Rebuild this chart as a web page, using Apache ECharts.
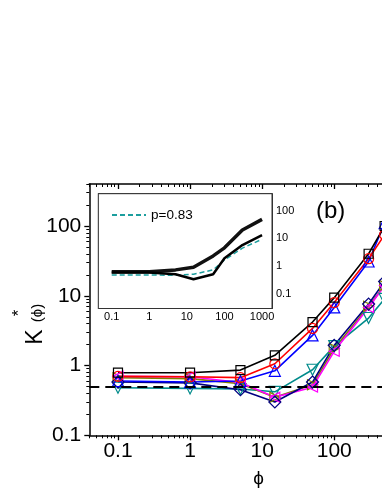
<!DOCTYPE html>
<html>
<head>
<meta charset="utf-8">
<script src="https://cdn.jsdelivr.net/npm/echarts@6/dist/echarts.min.js"></script>
<style>
  html, body { margin: 0; padding: 0; background: #fff; }
  #chart { width: 382px; height: 494px; }
</style>
</head>
<body>
<div id="chart"></div>
<script>
// main panel data (phi values, K*(phi) per series)
const phi = [0.1, 1, 5, 15, 50, 100, 300, 500]
const kBlack = [0.79, 0.79, 0.86, 1.4, 4.2, 9.4, 40, 100]
const kRed = [0.70, 0.69, 0.67, 1.06, 3.4, 8.0, 34, 75]
const kBlue = [0.60, 0.58, 0.60, 0.84, 2.7, 6.8, 31, 110]
const kMagenta = [0.70, 0.69, 0.57, 0.35, 0.49, 1.6, 6.8, 14]
const kOlive = [0.67, 0.65, 0.55, 0.35, 0.53, 1.75, 7.1, 14]
const kNavy = [0.58, 0.565, 0.45, 0.30, 0.58, 1.95, 7.6, 16]
const kTeal = [0.48, 0.47, 0.46, 0.42, 0.87, 1.9, 4.8, 9]
const refLevel = 0.5

// inset data
const insetPhi = [0.1, 1, 5, 15, 50, 100, 300, 1000]
const insetUpper = [0.62, 0.62, 0.72, 0.9, 2.3, 4.5, 20, 48]
const insetLower = [0.58, 0.58, 0.5, 0.33, 0.5, 1.9, 5.7, 13]
const insetTeal = [0.47, 0.47, 0.46, 0.5, 0.72, 1.65, 4.4, 9.2]

// tick values
const xMajor = [0.1, 1, 10, 100, 1000]
const yMajor = [0.1, 1, 10, 100]
const insetXMajor = [0.1, 1, 10, 100, 1000]
const insetYMajor = [0.1, 1, 10, 100]

const minorOf = (majors, lo, hi) => {
  const out = []
  const start = majors[0] / 10
  for (let d = start; d <= hi * 1.0001; d *= 10) {
    for (let m = 2; m <= 9; m++) {
      const v = +(d * m).toPrecision(6)
      if (v >= lo && v <= hi) out.push(v)
    }
  }
  return out
}

const font = 'Liberation Sans, Arial, sans-serif'
const xMin = 0.04, xMax = 2000, yMin = 0.1, yMax = 400
const ixMin = 0.044, ixMax = 1840, iyMin = 0.029, iyMax = 407

const mainAxisLine = { show: true, lineStyle: { color: '#000', width: 1.5 } }
const fmt = v => String(+v.toPrecision(6))

const chart = echarts.init(document.getElementById('chart'), null, { renderer: 'canvas' })

const baseLog = (min, max) => ({ type: 'log', logBase: 10, min, max, splitLine: { show: false } })

const xAxes = [
  // 0 main bottom, major ticks + labels
  Object.assign(baseLog(xMin, xMax), {
    gridIndex: 0, position: 'bottom',
    axisLine: mainAxisLine,
    axisTick: { show: true, length: 5, customValues: xMajor, lineStyle: { width: 1.3, color: '#000' } },
    axisLabel: { customValues: xMajor, formatter: fmt, fontSize: 21, fontFamily: font, color: '#000', margin: 5 },
    name: 'ϕ', nameLocation: 'middle', nameGap: 34,
    nameTextStyle: { fontSize: 19, fontFamily: font, color: '#000' }
  }),
  // 1 main bottom minor
  Object.assign(baseLog(xMin, xMax), {
    gridIndex: 0, position: 'bottom',
    axisLine: { show: false },
    axisTick: { show: true, length: 3, customValues: minorOf(xMajor, xMin, xMax), lineStyle: { width: 1, color: '#000' } },
    axisLabel: { show: false }
  }),
  // 2 main top major
  Object.assign(baseLog(xMin, xMax), {
    gridIndex: 0, position: 'top',
    axisLine: mainAxisLine,
    axisTick: { show: true, inside: true, length: 5, customValues: xMajor, lineStyle: { width: 1.3, color: '#000' } },
    axisLabel: { show: false }
  }),
  // 3 main top minor
  Object.assign(baseLog(xMin, xMax), {
    gridIndex: 0, position: 'top',
    axisLine: { show: false },
    axisTick: { show: true, inside: true, length: 3, customValues: minorOf(xMajor, xMin, xMax), lineStyle: { width: 1, color: '#000' } },
    axisLabel: { show: false }
  }),
  // 4 inset bottom
  Object.assign(baseLog(ixMin, ixMax), {
    gridIndex: 1, position: 'bottom',
    axisLine: { show: true, lineStyle: { color: '#333', width: 1 } },
    axisTick: { show: true, inside: true, length: 3, customValues: insetXMajor, lineStyle: { color: '#333' } },
    axisLabel: { customValues: insetXMajor, formatter: fmt, fontSize: 11, fontFamily: font, color: '#000', margin: 3 }
  }),
  // 5 inset top minor/major
  Object.assign(baseLog(ixMin, ixMax), {
    gridIndex: 1, position: 'top',
    axisLine: { show: true, lineStyle: { color: '#333', width: 1 } },
    axisTick: { show: true, inside: true, length: 2, customValues: minorOf(insetXMajor, ixMin, ixMax).concat(insetXMajor), lineStyle: { color: '#555' } },
    axisLabel: { show: false }
  })
]

const yAxes = [
  // 0 main left major + labels
  Object.assign(baseLog(yMin, yMax), {
    gridIndex: 0, position: 'left',
    axisLine: mainAxisLine,
    axisTick: { show: true, length: 5, customValues: yMajor, lineStyle: { width: 1.3, color: '#000' } },
    axisLabel: { customValues: yMajor, formatter: fmt, fontSize: 21, fontFamily: font, color: '#000', margin: 8 }
  }),
  // 1 main left minor
  Object.assign(baseLog(yMin, yMax), {
    gridIndex: 0, position: 'left',
    axisLine: { show: false },
    axisTick: { show: true, length: 3, customValues: minorOf(yMajor, yMin, yMax), lineStyle: { width: 1, color: '#000' } },
    axisLabel: { show: false }
  }),
  // 2 inset right, labels
  Object.assign(baseLog(iyMin, iyMax), {
    gridIndex: 1, position: 'right',
    axisLine: { show: true, lineStyle: { color: '#333', width: 1 } },
    axisTick: { show: true, inside: true, length: 3, customValues: insetYMajor, lineStyle: { color: '#333' } },
    axisLabel: { customValues: insetYMajor, formatter: fmt, fontSize: 11, fontFamily: font, color: '#000', margin: 4 }
  }),
  // 3 inset left, minor ticks inside
  Object.assign(baseLog(iyMin, iyMax), {
    gridIndex: 1, position: 'left',
    axisLine: { show: true, lineStyle: { color: '#333', width: 1 } },
    axisTick: { show: true, inside: true, length: 2, customValues: minorOf(insetYMajor, iyMin, iyMax).concat(insetYMajor), lineStyle: { color: '#555' } },
    axisLabel: { show: false }
  })
]

const pts = (xs, ys) => xs.map((x, i) => [x, ys[i]])

const mainSeries = (name, ys, color, symbol, rotate, size) => ({
  name, type: 'line', xAxisIndex: 0, yAxisIndex: 0,
  data: pts(phi, ys),
  symbol, symbolRotate: rotate || 0, symbolSize: size || 10,
  showSymbol: true,
  lineStyle: { color, width: 1.6 },
  itemStyle: { color: 'rgba(255,255,255,0)', borderColor: color, borderWidth: 1.2 },
  emphasis: { disabled: true },
  animation: false
})

const insetSeries = (name, ys, color, width, dashed) => ({
  name, type: 'line', xAxisIndex: 4, yAxisIndex: 2,
  data: pts(insetPhi, ys),
  symbol: 'none',
  lineStyle: { color, width, type: dashed ? [5, 3] : 'solid' },
  itemStyle: { color },
  emphasis: { disabled: true },
  animation: false,
  z: 5
})

const teal = '#008b8b'
const insetTealColor = '#1c9e9e'

const series = [
  mainSeries('teal', kTeal, teal, 'triangle', 180, 11),
  mainSeries('olive', kOlive, '#808000', 'triangle', -90, 10),
  mainSeries('magenta', kMagenta, '#ff00ff', 'triangle', 90, 10),
  mainSeries('navy', kNavy, '#000080', 'diamond', 0, 12),
  mainSeries('blue', kBlue, '#0000ff', 'triangle', 0, 11),
  mainSeries('red', kRed, '#ff0000', 'circle', 0, 10),
  mainSeries('black', kBlack, '#000000', 'rect', 0, 9),
  {
    name: 'ref', type: 'line', xAxisIndex: 0, yAxisIndex: 0, data: [],
    markLine: {
      silent: true, symbol: 'none', label: { show: false },
      lineStyle: { color: '#000', width: 2, type: [10, 6] },
      data: [{ yAxis: refLevel }]
    },
    animation: false
  },
  insetSeries('p=0.83', insetTeal, insetTealColor, 1.5, true),
  insetSeries('upper', insetUpper, '#111', 3.5, false),
  insetSeries('lower', insetLower, '#000', 2.5, false)
]

const option = {
  backgroundColor: '#fff',
  animation: false,
  grid: [
    { left: 89.3, right: -46, top: 184, bottom: 58.7, show: false, outerBoundsMode: 'none' },
    { left: 98.3, right: 110, top: 193.7, bottom: 185.5, show: true, backgroundColor: '#fff', borderColor: '#333', borderWidth: 1, z: 3, outerBoundsMode: 'none' }
  ],
  xAxis: xAxes,
  yAxis: yAxes,
  legend: {
    show: true,
    data: ['p=0.83'],
    left: 111, top: 208, itemWidth: 34, itemHeight: 12, itemGap: 4,
    itemStyle: { opacity: 0 },
    lineStyle: { inactiveWidth: 1.5 },
    textStyle: { fontSize: 13.5, fontFamily: font, color: '#000' },
    selectedMode: false, padding: 0, z: 20
  },
  series,
  graphic: [
    { type: 'text', left: 316, top: 199, style: { text: '(b)', fontSize: 24, fontFamily: font, fill: '#000' } },
    { type: 'text', x: 36, y: 337, rotation: Math.PI / 2, style: { text: 'K', fontSize: 23, fontFamily: font, fill: '#000', align: 'center', verticalAlign: 'middle' } },
    { type: 'text', x: 19, y: 313, rotation: Math.PI / 2, style: { text: '*', fontSize: 17, fontFamily: font, fill: '#000', align: 'center', verticalAlign: 'middle' } },
    { type: 'text', x: 38, y: 313, rotation: Math.PI / 2, style: { text: '(ϕ)', fontSize: 15, fontFamily: font, fill: '#000', align: 'center', verticalAlign: 'middle' } }
  ]
}

chart.setOption(option)
</script>
</body>
</html>
